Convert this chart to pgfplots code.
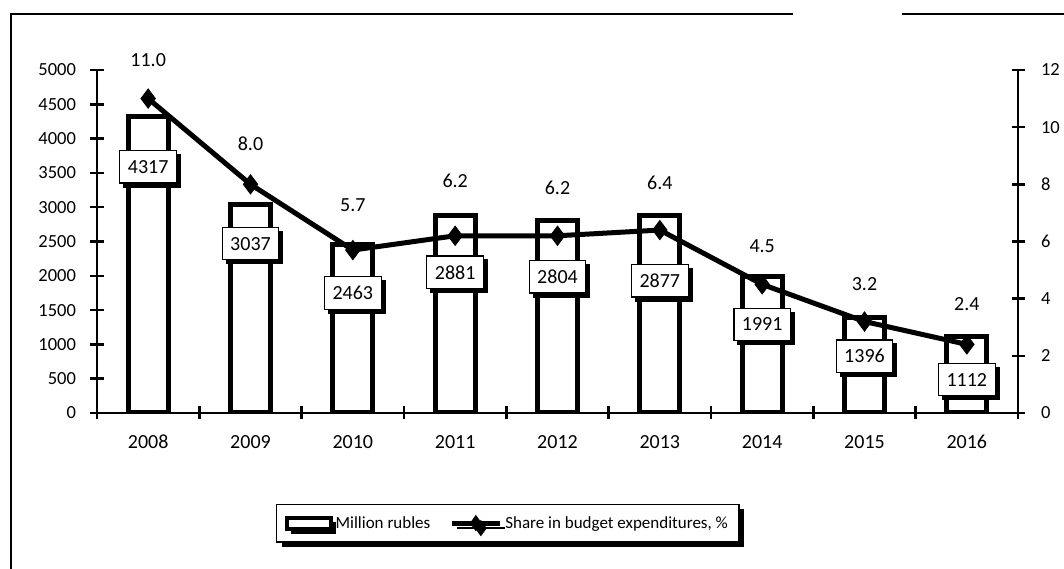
\documentclass[border=0pt]{standalone}
\usepackage{fontspec}
\setmainfont{Carlito}
\usepackage{pgfplots}
\pgfplotsset{compat=1.18}
\usepackage{pgfplotstable}
\usetikzlibrary{shadows}

% x: category index, val: million rubles, off: label drop below bar top (pt)
% share: share in budget expenditures, toff: label rise above marker (pt)
\pgfplotstableread{
x val  off share toff
0 4317 50  11.0  38
1 3037 39  8.0   41
2 2463 49  5.7   45
3 2881 57  6.2   55
4 2804 56  6.2   48
5 2877 65  6.4   47
6 1991 48  4.5   38
7 1396 39  3.2   37
8 1112 43  2.4   40
}\budget

\pgfplotsset{
  base/.style={
    at={(97pt,156pt)}, anchor=south west,
    scale only axis, width=921pt, height=343pt,
    xmin=-0.5, xmax=8.5, ymin=0,
    axis line style={line width=2.5pt, black},
    tick style={line width=2.5pt, black},
    tick align=center,
    major tick length=13pt,
    /pgf/number format/assume math mode=true,
    /pgf/number format/1000 sep={},
  },
}

\begin{document}
\begin{tikzpicture}
\path[use as bounding box] (0,0) rectangle (1064pt,569pt);
\draw[line width=2pt] (11pt,0pt) -- (11pt,555pt) -- (793pt,555pt);
\draw[line width=2pt] (902pt,555pt) -- (1064pt,555pt);

\begin{axis}[
  base,
  ymax=5000,
  axis x line*=bottom, axis y line*=left,
  ytick={0,500,...,5000},
  xtick={0,...,8},
  xticklabels={2008,2009,2010,2011,2012,2013,2014,2015,2016},
  major x tick style={draw=none},
  minor xtick={-0.5,0.5,...,8.5},
  minor tick length=13pt,
  y tick label style={font=\fontsize{18.5}{20}\selectfont, xshift=-11pt},
  x tick label style={font=\fontsize{20}{22}\selectfont, yshift=-12pt},
]
\addplot[ybar, bar width=40pt, draw=black, fill=white, line width=5pt,
  visualization depends on={\thisrow{off} \as \myoff},
  nodes near coords,
  every node near coord/.append style={
    anchor=center, yshift=-\myoff pt,
    font=\fontsize{20}{22}\selectfont,
    draw=black, line width=1.2pt, fill=white,
    inner xsep=8pt, inner ysep=9.5pt,
    drop shadow={shadow xshift=4pt, shadow yshift=-4pt, fill=black, opacity=1},
  },
] table[x=x, y=val] {\budget};
\end{axis}

\begin{axis}[
  base,
  ymax=12,
  axis x line=none, axis y line*=right,
  ytick={0,2,...,12},
  y tick label style={font=\fontsize{18.5}{20}\selectfont, xshift=13pt},
  legend columns=2,
  legend style={
    at={(0.446,-0.321)}, anchor=center,
    draw=black, line width=1.5pt, fill=white,
    drop shadow={shadow xshift=5pt, shadow yshift=-5pt, fill=black, opacity=1},
    font=\fontsize{17}{19}\selectfont,
    inner xsep=8pt, inner ysep=3pt,
    nodes={inner xsep=3pt, inner ysep=9pt},
    /tikz/every even column/.append style={column sep=16pt},
  },
]
\addlegendimage{legend image code/.code={
  \draw[line width=4pt, fill=white] (2pt,-5.5pt) rectangle (46pt,5.5pt);}}
\addlegendentry{Million rubles}
\addlegendimage{legend image code/.code={
  \draw[line width=5pt] (0pt,0pt) -- (48pt,0pt);
  \fill (24pt,7pt) -- (29pt,0pt) -- (24pt,-7pt) -- (19pt,0pt) -- cycle;}}
\addlegendentry{Share in budget expenditures, \%}
\addplot[forget plot, black, line width=5pt,
  mark=diamond*, mark size=9.5pt, mark options={line width=1pt, solid},
  point meta=\thisrow{share},
  visualization depends on={\thisrow{toff} \as \mytoff},
  nodes near coords={\pgfmathprintnumber[fixed, fixed zerofill, precision=1]{\pgfplotspointmeta}},
  every node near coord/.append style={
    anchor=center, yshift=\mytoff pt,
    font=\fontsize{20}{22}\selectfont,
  },
] table[x=x, y=share] {\budget};
\end{axis}
\end{tikzpicture}
\end{document}
